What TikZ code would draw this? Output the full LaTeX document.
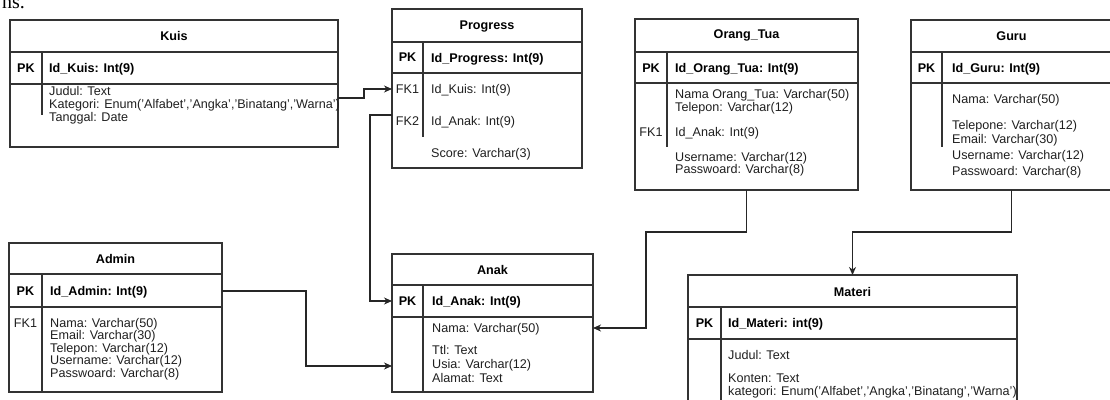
\documentclass[tikz,border=0pt]{standalone}
\usepackage{fontspec}
\setmainfont{Liberation Sans}
\newfontfamily\notefont{Liberation Serif}
\usetikzlibrary{arrows.meta}
\newcommand\erdfont{\fontsize{12.6}{13}\selectfont}
\tikzset{
  tbl/.style={draw=black!80,line width=1.1pt,anchor=north west,inner sep=0pt,outer sep=0pt},
  sep/.style={draw=black!80,line width=1.1pt},
  ttl/.style={font=\erdfont\bfseries,inner sep=0pt},
  key/.style={font=\erdfont\bfseries,inner sep=0pt},
  fkey/.style={font=\erdfont,inner sep=0pt,text=black!88},
  fld/.style={font=\erdfont,inner sep=0pt,anchor=base west,text=black!88},
  idfld/.style={fld,font=\erdfont\bfseries,text=black},
  rel/.style={draw=black!85,line width=1.1pt,-{Stealth[length=8pt,width=7pt,inset=2.5pt]}},
}
\begin{document}
\begin{tikzpicture}[x=1pt,y=-1pt]
\useasboundingbox (0,0) rectangle (1110,399);
\node[anchor=base east,inner sep=0pt,font=\notefont\fontsize{20}{20}\selectfont] (note) at (25,8) {ns.};
% Kuis
\node[tbl,minimum width=328,minimum height=127] (kuis) at (10,20) {};
\draw[sep] (kuis.west |- 0,52) -- (kuis.east |- 0,52);
\draw[sep] (kuis.west |- 0,84) -- (kuis.east |- 0,84);
\draw[sep] (42,52) -- (42,115);
\node[ttl] (kuisT) at (174,36) {Kuis};
\node[key] (kuisPK) at (26,68) {PK};
\node[idfld] (kuisId) at (49,72) {Id\_Kuis: Int(9)};
\node[fld] (kuisA) at (49,95) {Judul: Text};
\node[fld] (kuisB) at (49,108) {Kategori: Enum('Alfabet','Angka','Binatang','Warna')};
\node[fld] (kuisC) at (49,121) {Tanggal: Date};
% Progress
\node[tbl,minimum width=190,minimum height=159] (progress) at (392,9) {};
\draw[sep] (progress.west |- 0,42) -- (progress.east |- 0,42);
\draw[sep] (progress.west |- 0,73) -- (progress.east |- 0,73);
\draw[sep] (423,42) -- (423,137);
\node[ttl] (progressT) at (487,26) {Progress};
\node[key] (progressPK) at (407.5,57.5) {PK};
\node[idfld] (progressId) at (431,62) {Id\_Progress: Int(9)};
\node[fkey] (progressFK1) at (407.5,89) {FK1};
\node[fld] (progressA) at (431,93) {Id\_Kuis: Int(9)};
\node[fkey] (progressFK2) at (407.5,121) {FK2};
\node[fld] (progressB) at (431,125) {Id\_Anak: Int(9)};
\node[fld] (progressC) at (431,157) {Score: Varchar(3)};
% Orang_Tua
\node[tbl,minimum width=223,minimum height=171] (ortu) at (635,19) {};
\draw[sep] (ortu.west |- 0,52) -- (ortu.east |- 0,52);
\draw[sep] (ortu.west |- 0,83) -- (ortu.east |- 0,83);
\draw[sep] (667,52) -- (667,147);
\node[ttl] (ortuT) at (746.5,35) {Orang\_Tua};
\node[key] (ortuPK) at (651,68) {PK};
\node[idfld] (ortuId) at (675,72) {Id\_Orang\_Tua: Int(9)};
\node[fld] (ortuA) at (675,98.5) {Nama Orang\_Tua: Varchar(50)};
\node[fld] (ortuB) at (675,111) {Telepon: Varchar(12)};
\node[fkey] (ortuFK1) at (651,132) {FK1};
\node[fld] (ortuC) at (675,136) {Id\_Anak: Int(9)};
\node[fld] (ortuD) at (675,161) {Username: Varchar(12)};
\node[fld] (ortuE) at (675,173.5) {Passwoard: Varchar(8)};
% Guru
\node[tbl,minimum width=201,minimum height=170] (guru) at (911,20) {};
\draw[sep] (guru.west |- 0,52) -- (guru.east |- 0,52);
\draw[sep] (guru.west |- 0,83) -- (guru.east |- 0,83);
\draw[sep] (942,52) -- (942,147);
\node[ttl] (guruT) at (1011.5,36) {Guru};
\node[key] (guruPK) at (926.5,68) {PK};
\node[idfld] (guruId) at (952,72) {Id\_Guru: Int(9)};
\node[fld] (guruA) at (952,103.5) {Nama: Varchar(50)};
\node[fld] (guruB) at (952,129.5) {Telepone: Varchar(12)};
\node[fld] (guruC) at (952,143.5) {Email: Varchar(30)};
\node[fld] (guruD) at (952,159.5) {Username: Varchar(12)};
\node[fld] (guruE) at (952,175.5) {Passwoard: Varchar(8)};
% Admin
\node[tbl,minimum width=213,minimum height=149] (admin) at (9,243) {};
\draw[sep] (admin.west |- 0,274) -- (admin.east |- 0,274);
\draw[sep] (admin.west |- 0,307) -- (admin.east |- 0,307);
\draw[sep] (42,274) -- (42,392);
\node[ttl] (adminT) at (115.5,259) {Admin};
\node[key] (adminPK) at (25.5,291) {PK};
\node[idfld] (adminId) at (50,295) {Id\_Admin: Int(9)};
\node[fkey] (adminFK1) at (25.5,323) {FK1};
\node[fld] (adminA) at (50,327) {Nama: Varchar(50)};
\node[fld] (adminB) at (50,339.5) {Email: Varchar(30)};
\node[fld] (adminC) at (50,352) {Telepon: Varchar(12)};
\node[fld] (adminD) at (50,364.5) {Username: Varchar(12)};
\node[fld] (adminE) at (50,377) {Passwoard: Varchar(8)};
% Anak
\node[tbl,minimum width=201,minimum height=138] (anak) at (392,254) {};
\draw[sep] (anak.west |- 0,285) -- (anak.east |- 0,285);
\draw[sep] (anak.west |- 0,317) -- (anak.east |- 0,317);
\draw[sep] (423,285) -- (423,392);
\node[ttl] (anakT) at (492.5,270) {Anak};
\node[key] (anakPK) at (407.5,301) {PK};
\node[idfld] (anakId) at (432,305) {Id\_Anak: Int(9)};
\node[fld] (anakA) at (432,332) {Nama: Varchar(50)};
\node[fld] (anakB) at (432,354) {Ttl: Text};
\node[fld] (anakC) at (432,368) {Usia: Varchar(12)};
\node[fld] (anakD) at (432,382) {Alamat: Text};
% Materi
\node[tbl,minimum width=329,minimum height=150] (materi) at (688,275) {};
\draw[sep] (materi.west |- 0,307) -- (materi.east |- 0,307);
\draw[sep] (materi.west |- 0,339) -- (materi.east |- 0,339);
\draw[sep] (721,307) -- (721,425);
\node[ttl] (materiT) at (852.5,292) {Materi};
\node[key] (materiPK) at (704.5,323) {PK};
\node[idfld] (materiId) at (728,327) {Id\_Materi: int(9)};
\node[fld] (materiA) at (728,359) {Judul: Text};
\node[fld] (materiB) at (728,382.5) {Konten: Text};
\node[fld] (materiC) at (728,395.5) {kategori: Enum('Alfabet','Angka','Binatang','Warna')};
% relations
\draw[rel] (kuis.east |- 0,98) -- ++(26,0) |- (progress.west |- progressFK1);
\draw[rel] (progress.west |- 0,115) -- ++(-22,0) |- (anak.west |- anakPK);
\draw[rel] (admin.east |- adminPK) -- ++(84,0) |- (anak.west |- 0,366);
\draw[rel] (ortu.south) -- ++(0,42) -| (646,328) -- (anak.east |- 0,328);
\draw[rel] (guru.south) -- ++(0,42) -| (materi.north);
\end{tikzpicture}
\end{document}
